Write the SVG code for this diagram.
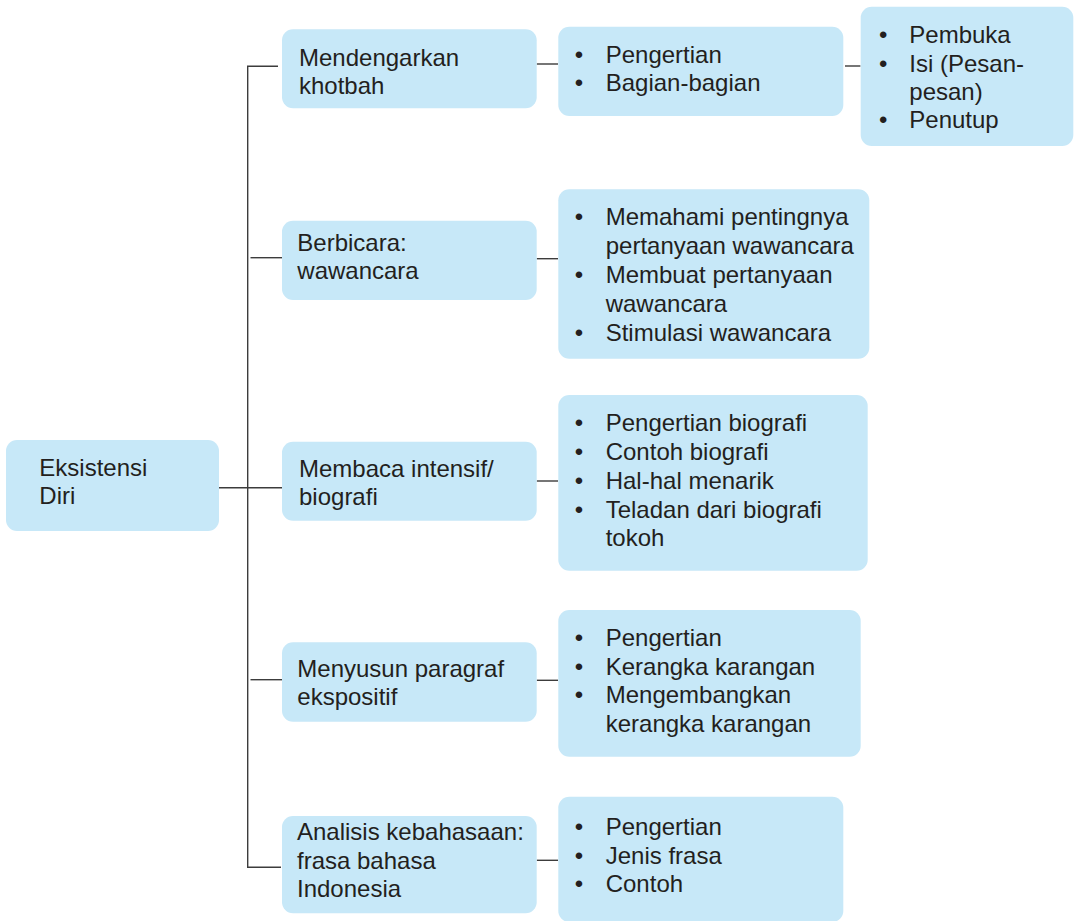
<svg xmlns="http://www.w3.org/2000/svg" width="1074" height="921" viewBox="0 0 1074 921">
  <style>
    .box { fill: #c7e8f8; }
    .t { font-family: "Liberation Sans", Arial, Helvetica, sans-serif; font-size: 24px; fill: #231f20; }
    .b { font-family: "Liberation Sans", Arial, Helvetica, sans-serif; font-size: 24px; fill: #231f20; text-anchor: middle; }
    .ln { stroke: #3c3c3c; stroke-width: 1.4; fill: none; }
  </style>
  <rect width="1074" height="921" fill="#ffffff"/>

  <!-- connectors -->
  <g id="connectors">
    <path class="ln" d="M278,66.3 H247.7 V867.3 H281"/>
    <path class="ln" d="M219,487.7 H282"/>
    <path class="ln" d="M250.5,257.7 H282"/>
    <path class="ln" d="M250.5,679.7 H282"/>
    <path class="ln" d="M536.7,64 H558"/>
    <path class="ln" d="M845,66 H860.5"/>
    <path class="ln" d="M536.7,258.7 H558"/>
    <path class="ln" d="M536.7,481 H558"/>
    <path class="ln" d="M536.7,680.3 H558"/>
    <path class="ln" d="M536.7,860.3 H558"/>
  </g>

  <!-- root -->
  <g id="node-eksistensi">
    <rect class="box" x="6" y="440" width="213" height="91" rx="11"/>
    <text class="t" x="39.3" y="475.7">Eksistensi</text>
    <text class="t" x="39.3" y="504.3">Diri</text>
  </g>

  <!-- first level -->
  <g id="node-mendengarkan">
    <rect class="box" x="282" y="29.3" width="254.7" height="79" rx="11"/>
    <text class="t" x="299" y="65.7">Mendengarkan</text>
    <text class="t" x="299" y="94.3">khotbah</text>
  </g>
  <g id="node-berbicara">
    <rect class="box" x="282" y="220.7" width="254.7" height="79.3" rx="11"/>
    <text class="t" x="297.3" y="250.7">Berbicara:</text>
    <text class="t" x="297.3" y="279">wawancara</text>
  </g>
  <g id="node-membaca">
    <rect class="box" x="282" y="441.7" width="254.7" height="79" rx="11"/>
    <text class="t" x="299" y="476.7">Membaca intensif/</text>
    <text class="t" x="299" y="505">biografi</text>
  </g>
  <g id="node-menyusun">
    <rect class="box" x="282" y="642.3" width="254.7" height="79.4" rx="11"/>
    <text class="t" x="297.3" y="676.7">Menyusun paragraf</text>
    <text class="t" x="297.3" y="705">ekspositif</text>
  </g>
  <g id="node-analisis">
    <rect class="box" x="282" y="816" width="254.7" height="97.3" rx="11"/>
    <text class="t" x="297" y="840">Analisis kebahasaan:</text>
    <text class="t" x="297" y="868.7">frasa bahasa</text>
    <text class="t" x="297" y="897.3">Indonesia</text>
  </g>

  <!-- second level lists -->
  <g id="list-khotbah">
    <rect class="box" x="558.3" y="26.7" width="285" height="89.3" rx="11"/>
    <text class="b" x="579" y="63.3">•</text>
    <text class="t" x="605.7" y="63.3">Pengertian</text>
    <text class="b" x="579" y="91">•</text>
    <text class="t" x="605.7" y="91">Bagian-bagian</text>
  </g>
  <g id="list-bagian">
    <rect class="box" x="860.7" y="6.7" width="212.6" height="139.3" rx="11"/>
    <text class="b" x="883.3" y="42.7">•</text>
    <text class="t" x="909.3" y="42.7">Pembuka</text>
    <text class="b" x="883.3" y="71.7">•</text>
    <text class="t" x="909.3" y="71.7">Isi (Pesan-</text>
    <text class="t" x="909.3" y="100">pesan)</text>
    <text class="b" x="883.3" y="128.3">•</text>
    <text class="t" x="909.3" y="128.3">Penutup</text>
  </g>
  <g id="list-wawancara">
    <rect class="box" x="558.3" y="189.3" width="311" height="169.4" rx="11"/>
    <text class="b" x="579" y="225">•</text>
    <text class="t" x="605.7" y="225">Memahami pentingnya</text>
    <text class="t" x="605.7" y="254">pertanyaan wawancara</text>
    <text class="b" x="579" y="282.7">•</text>
    <text class="t" x="605.7" y="282.7">Membuat pertanyaan</text>
    <text class="t" x="605.7" y="311.7">wawancara</text>
    <text class="b" x="579" y="340.7">•</text>
    <text class="t" x="605.7" y="340.7">Stimulasi wawancara</text>
  </g>
  <g id="list-biografi">
    <rect class="box" x="558.3" y="395" width="309.4" height="175.7" rx="11"/>
    <text class="b" x="579" y="431">•</text>
    <text class="t" x="605.7" y="431">Pengertian biografi</text>
    <text class="b" x="579" y="460">•</text>
    <text class="t" x="605.7" y="460">Contoh biografi</text>
    <text class="b" x="579" y="489">•</text>
    <text class="t" x="605.7" y="489">Hal-hal menarik</text>
    <text class="b" x="579" y="517.7">•</text>
    <text class="t" x="605.7" y="517.7">Teladan dari biografi</text>
    <text class="t" x="605.7" y="546">tokoh</text>
  </g>
  <g id="list-paragraf">
    <rect class="box" x="558.3" y="610" width="302.4" height="146.7" rx="11"/>
    <text class="b" x="579" y="646">•</text>
    <text class="t" x="605.7" y="646">Pengertian</text>
    <text class="b" x="579" y="674.5">•</text>
    <text class="t" x="605.7" y="674.5">Kerangka karangan</text>
    <text class="b" x="579" y="703.3">•</text>
    <text class="t" x="605.7" y="703.3">Mengembangkan</text>
    <text class="t" x="605.7" y="731.7">kerangka karangan</text>
  </g>
  <g id="list-frasa">
    <rect class="box" x="558.3" y="796.7" width="285" height="125.3" rx="11"/>
    <text class="b" x="579" y="835">•</text>
    <text class="t" x="605.7" y="835">Pengertian</text>
    <text class="b" x="579" y="863.5">•</text>
    <text class="t" x="605.7" y="863.5">Jenis frasa</text>
    <text class="b" x="579" y="892.3">•</text>
    <text class="t" x="605.7" y="892.3">Contoh</text>
  </g>
</svg>
